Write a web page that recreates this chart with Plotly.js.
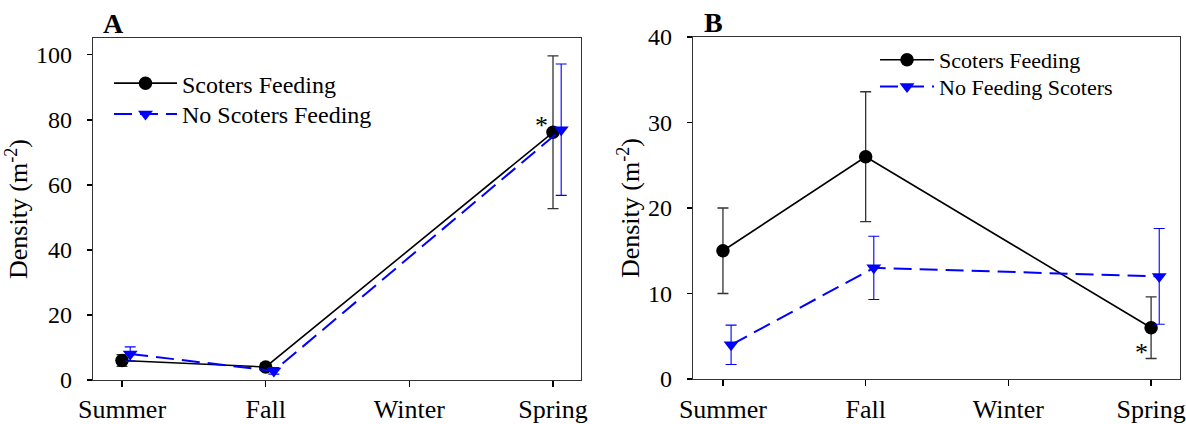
<!DOCTYPE html>
<html><head><meta charset="utf-8">
<script src="https://cdn.plot.ly/plotly-3.0.1.min.js"></script>
<style>body{margin:0;background:#fff}#c{width:1186px;height:424px}</style>
</head><body><div id="c"></div>
<script>
const seasons = ['Summer','Fall','Winter','Spring'];
// Panel A
const aSeasons = ['Summer','Fall','Spring'];
const aFeed = [6, 4, 76.2];
const aFeedErr = [1.8, 1, 23.5];
const aNoFeed = [8, 2.8, 77];
const aNoFeedErr = [2.2, 1, 20.2];
// Panel B
const bSeasons = ['Summer','Fall','Spring'];
const bFeed = [15, 26, 6];
const bFeedErr = [5, 7.6, 3.6];
const bNoFeed = [4, 13, 12];
const bNoFeedErr = [2.3, 3.7, 5.6];

const idx = s => seasons.indexOf(s);
const off = 0.057;
const font = 'Liberation Serif';

function feedTrace(xs, ys, err, name, xa, ya, leg){
  return {x: xs.map(idx), y: ys, name: name, xaxis: xa, yaxis: ya, legend: leg,
    type:'scatter', mode:'lines+markers',
    line:{color:'#000', width:1.6},
    marker:{symbol:'circle', size:13.5, color:'#000'},
    error_y:{type:'data', array:err, visible:true, color:'#333', thickness:1.3, width:5.5}};
}
function noTrace(xs, ys, err, name, xa, ya, leg){
  return {x: xs.map(s => idx(s)+off), y: ys, name: name, xaxis: xa, yaxis: ya, legend: leg,
    type:'scatter', mode:'lines+markers',
    line:{color:'#0000ff', width:2, dash:'18px,8px'},
    marker:{symbol:'triangle-down', size:13, color:'#0000ff'},
    error_y:{type:'data', array:err, visible:true, color:'#0000ff', thickness:1.1, width:5.5}};
}

const data = [
  feedTrace(aSeasons, aFeed, aFeedErr, 'Scoters Feeding', 'x', 'y', 'legend'),
  noTrace(aSeasons, aNoFeed, aNoFeedErr, 'No Scoters Feeding', 'x', 'y', 'legend2'),
  feedTrace(bSeasons, bFeed, bFeedErr, 'Scoters Feeding', 'x2', 'y2', 'legend3'),
  noTrace(bSeasons, bNoFeed, bNoFeedErr, 'No Feeding Scoters', 'x2', 'y2', 'legend4')
];

const xCommon = {tickvals:[0,1,2,3], ticktext:seasons, ticks:'outside', ticklen:6, tickcolor:'#000', tickwidth:1.2,
  showline:true, linecolor:'#333', linewidth:1.3, mirror:true, showgrid:false, zeroline:false,
  tickfont:{family:font, size:26, color:'#000'}};
const yCommon = {ticks:'outside', ticklen:5, tickcolor:'#000', tickwidth:1.2, showline:true, linecolor:'#333', linewidth:1.3,
  mirror:true, showgrid:false, zeroline:false, tickfont:{family:font, size:24, color:'#000'}, ticklabelstandoff:10,
  title:{text:'Density (m<sup>-2</sup>)', font:{family:font, size:26, color:'#000'}, standoff:0}};

function leg(x, y, size, w){
  return {x:x, y:y, xanchor:'left', yanchor:'top', bgcolor:'rgba(0,0,0,0)',
    font:{family:font, size:size, color:'#000'}, tracegroupgap:0, itemwidth:w};
}

const layout = {
  width:1186, height:424, margin:{l:0,r:0,t:0,b:0}, paper_bgcolor:'#fff', plot_bgcolor:'#fff',
  showlegend:true,
  xaxis: Object.assign({}, xCommon, {domain:[0.0784,0.4899], range:[-0.202,3.195], anchor:'y'}),
  yaxis: Object.assign({}, yCommon, {domain:[0.1038,0.9104], range:[0,105.2], tickvals:[0,20,40,60,80,100], anchor:'x'}),
  xaxis2: Object.assign({}, xCommon, {domain:[0.5843,0.995], range:[-0.21,3.203], anchor:'y2'}),
  yaxis2: Object.assign({}, yCommon, {domain:[0.1061,0.9127], range:[0,40], tickvals:[0,10,20,30,40], anchor:'x2'}),
  legend: leg(0.0919, 0.856, 24, 63),
  legend2: leg(0.0919, 0.783, 24, 63),
  legend3: leg(0.7378, 0.908, 22, 54),
  legend4: leg(0.7378, 0.845, 22, 54),
  annotations:[
    {text:'<b>A</b>', xref:'paper', yref:'paper', x:114/1186, y:1-24/424, showarrow:false, xanchor:'center', yanchor:'middle', font:{family:font, size:28, color:'#000'}},
    {text:'<b>B</b>', xref:'paper', yref:'paper', x:713/1186, y:1-23/424, showarrow:false, xanchor:'center', yanchor:'middle', font:{family:font, size:28, color:'#000'}},
    {text:'*', xref:'x', yref:'y', x:2.923, y:78.2, showarrow:false, font:{family:font, size:26, color:'#000'}},
    {text:'*', xref:'x2', yref:'y2', x:2.936, y:3.1, showarrow:false, font:{family:font, size:26, color:'#000'}}
  ]
};
Plotly.newPlot('c', data, layout, {displayModeBar:false, staticPlot:true});
</script></body></html>
